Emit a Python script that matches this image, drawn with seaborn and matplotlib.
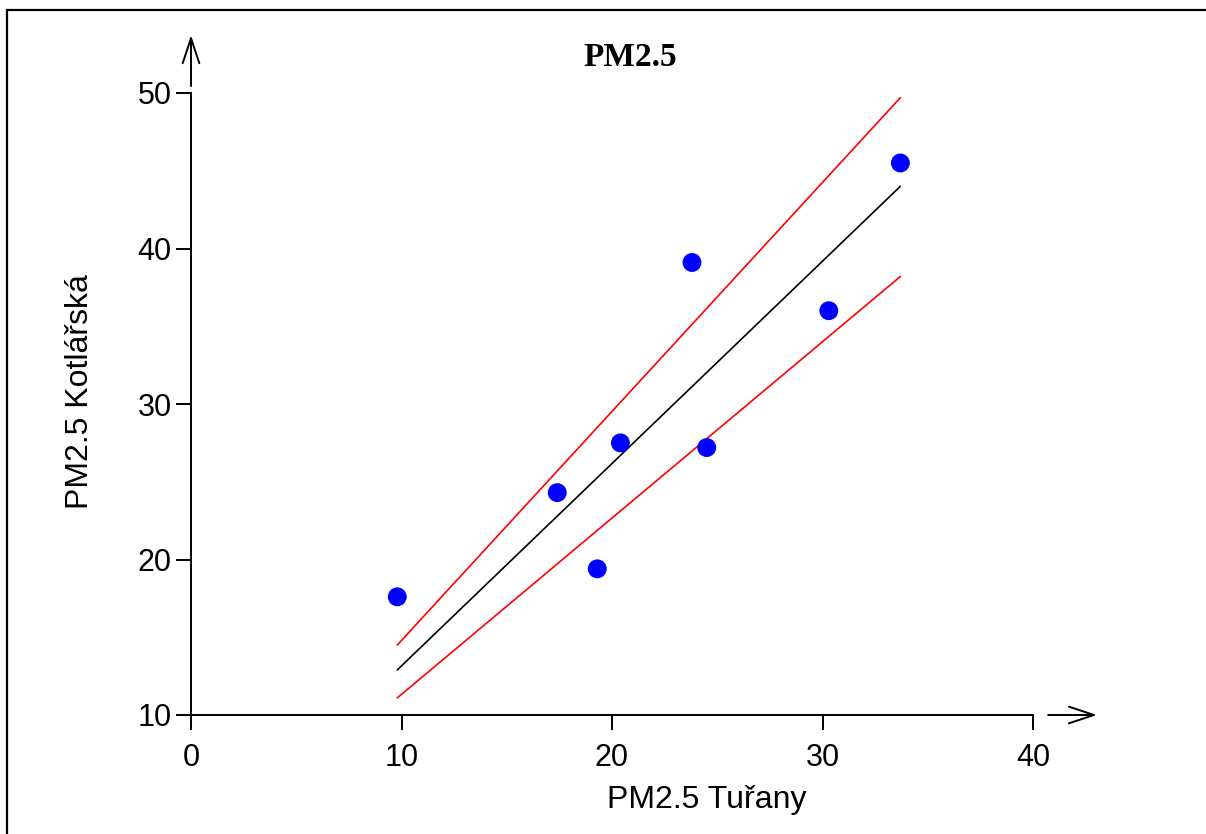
import matplotlib
matplotlib.use('Agg')
import matplotlib.pyplot as plt
import seaborn as sns
import pandas as pd
from matplotlib.lines import Line2D

# measured values (PM2.5, ug/m3)
turany = [9.8, 17.4, 19.3, 20.4, 23.8, 24.5, 30.3, 33.7]
kotlarska = [17.6, 24.3, 19.4, 27.5, 39.1, 27.2, 36.0, 45.5]

# fitted line and bands, read at the line ends
fit_x = [9.8, 33.7]
fit_y = [12.9, 44.0]
upper_y = [14.5, 49.7]
lower_y = [11.1, 38.2]

xticks = [0, 10, 20, 30, 40]
yticks = [10, 20, 30, 40, 50]

sns.set_style('white')
plt.rcParams['font.family'] = ['Liberation Sans', 'DejaVu Sans']
plt.rcParams['text.color'] = 'black'

df = pd.DataFrame({'turany': turany, 'kotlarska': kotlarska})
lines = pd.DataFrame({'x': fit_x, 'fit': fit_y, 'upper': upper_y, 'lower': lower_y})

fig = plt.figure(figsize=(12.06, 8.34), dpi=100)
ax = fig.add_axes([191/1206, 1-715/834, 842/1206, 622/834])

sns.lineplot(x='x', y='upper', data=lines, color='red', lw=1.2, ax=ax)
sns.lineplot(x='x', y='lower', data=lines, color='red', lw=1.2, ax=ax)
sns.lineplot(x='x', y='fit', data=lines, color='black', lw=1.2, ax=ax)
sns.scatterplot(x='turany', y='kotlarska', data=df, color='blue', s=185,
                edgecolor='none', ax=ax, zorder=5)

ax.set_xlim(0, 40)
ax.set_ylim(10, 50)
ax.set_xticks(xticks)
ax.set_yticks(yticks)
ax.set_xlabel('')
ax.set_ylabel('')
sns.despine(ax=ax)
for s in ['left', 'bottom']:
    ax.spines[s].set_linewidth(1.4)
    ax.spines[s].set_color('black')
ax.tick_params(axis='both', direction='out', length=11, width=1.4,
               labelsize=22, colors='black', left=True, bottom=True)
ax.tick_params(axis='x', pad=9)
ax.tick_params(axis='y', pad=3)

# axis arrows
arr = dict(arrowstyle='->,head_length=0.9,head_width=0.3', mutation_scale=20,
           lw=1.4, color='black', shrinkA=0, shrinkB=0)
ax.annotate('', xy=(0, 1.093), xytext=(0, 1.011), xycoords='axes fraction',
            arrowprops=arr, annotation_clip=False)
ax.annotate('', xy=(1.076, 0), xytext=(1.018, 0), xycoords='axes fraction',
            arrowprops=arr, annotation_clip=False)

fig.text(630/1206, 1-58/834, 'PM2.5', ha='center', va='center', fontsize=24,
         fontweight='bold', color='black', family=['Liberation Serif', 'DejaVu Serif'])
fig.text(707/1206, 1-800/834, 'PM2.5 Tuřany', ha='center', va='center',
         fontsize=23, color='black')
fig.text(80/1206, 1-392/834, 'PM2.5 Kotlářská', ha='center', va='center',
         fontsize=23, rotation=90, color='black')

# frame lines (top and left)
fig.add_artist(Line2D([7/1206, 7/1206], [0, 1-10/834], transform=fig.transFigure,
                      color='black', lw=1.6))
fig.add_artist(Line2D([7/1206, 1], [1-10/834, 1-10/834], transform=fig.transFigure,
                      color='black', lw=1.6))

fig.savefig('out.png', dpi=100)
